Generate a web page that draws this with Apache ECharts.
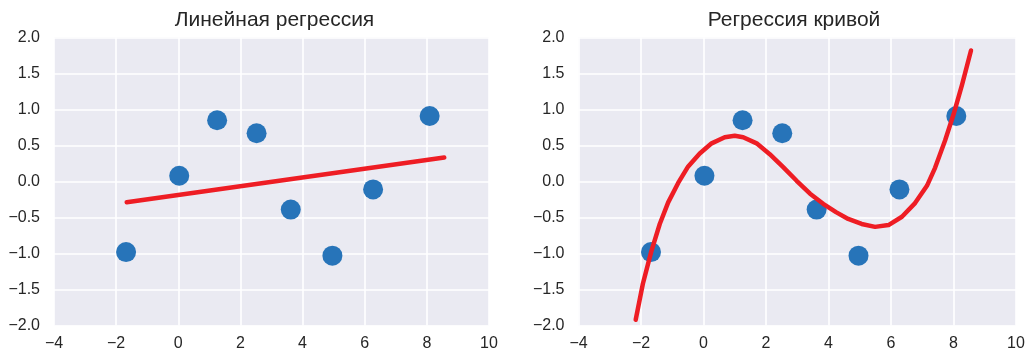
<!DOCTYPE html>
<html><head><meta charset="utf-8">
<script src="https://cdn.jsdelivr.net/npm/echarts@6/dist/echarts.min.js"></script>
<style>html,body{margin:0;padding:0;background:#fff}#c{width:1032px;height:356px}</style>
</head><body><div id="c"></div>
<script>
const titles = ['Линейная регрессия', 'Регрессия кривой'];
const pointsX = [-1.68, 0.03, 1.25, 2.52, 3.62, 4.96, 6.27, 8.09];
const pointsY = [-0.98, 0.08, 0.85, 0.67, -0.39, -1.03, -0.11, 0.91];
const lineX = [-1.66, 8.56];
const lineY = [-0.288, 0.334];
const curveX = [-2.17, -1.94, -1.67, -1.40, -1.13, -0.81, -0.49, -0.12, 0.26, 0.68, 1.00, 1.27, 1.70, 2.12, 2.55, 2.98, 3.41, 3.83, 4.24, 4.63, 5.06, 5.49, 5.92, 6.35, 6.77, 7.15, 7.41, 7.73, 8.00, 8.27, 8.56];
const curveY = [-1.92, -1.42, -0.97, -0.59, -0.29, -0.02, 0.21, 0.39, 0.53, 0.615, 0.635, 0.615, 0.53, 0.38, 0.20, 0.01, -0.17, -0.31, -0.425, -0.52, -0.59, -0.63, -0.605, -0.49, -0.30, -0.06, 0.19, 0.57, 0.93, 1.34, 1.82];
const xTicks = {min: -4, max: 10, interval: 2};
const yTicks = {min: -2, max: 2, interval: 0.5};

const zip = (a, b) => a.map((v, i) => [v, b[i]]);
const fmtMinus = v => String(v).replace('-', '\u2212');
const fmtY = v => fmtMinus(v.toFixed(1));
const font = '"Liberation Sans", Arial, sans-serif';
const txt = '#262626';
const dotColor = '#2774b9';
const redColor = '#ee1d24';

const grids = [
  {left: 54, right: 543, top: 37.5, bottom: 30.5},
  {left: 578.5, right: 16, top: 37.5, bottom: 30.5}
];
function xAxis(i) {
  return {type: 'value', gridIndex: i, min: xTicks.min, max: xTicks.max, interval: xTicks.interval,
    axisLine: {show: false}, axisTick: {show: false},
    splitLine: {show: true, lineStyle: {color: '#ffffff', width: 1.6}},
    axisLabel: {color: txt, fontSize: 16, fontFamily: font, margin: 10, formatter: v => fmtMinus(v)}};
}
function yAxis(i) {
  return {type: 'value', gridIndex: i, min: yTicks.min, max: yTicks.max, interval: yTicks.interval,
    axisLine: {show: false}, axisTick: {show: false},
    splitLine: {show: true, lineStyle: {color: '#ffffff', width: 1.6}},
    axisLabel: {color: txt, fontSize: 16, fontFamily: font, margin: 14, formatter: fmtY}};
}
const chart = echarts.init(document.getElementById('c'), null, {renderer: 'canvas'});
chart.setOption({
  animation: false,
  backgroundColor: '#ffffff',
  title: titles.map((t, i) => ({text: t, left: i === 0 ? 269.5 : 789, top: 5, textAlign: 'center',
    textStyle: {color: txt, fontSize: 21, fontWeight: 'normal', fontFamily: font}})),
  grid: grids.map(g => Object.assign({show: true, backgroundColor: '#eaeaf2', borderWidth: 0}, g)),
  xAxis: [xAxis(0), xAxis(1)],
  yAxis: [yAxis(0), yAxis(1)],
  series: [
    {type: 'scatter', xAxisIndex: 0, yAxisIndex: 0, data: zip(pointsX, pointsY), symbolSize: 20,
      itemStyle: {color: dotColor, opacity: 1}, z: 3},
    {type: 'line', xAxisIndex: 0, yAxisIndex: 0, data: zip(lineX, lineY), showSymbol: false,
      lineStyle: {color: redColor, width: 4.5, cap: 'round'}, z: 4},
    {type: 'scatter', xAxisIndex: 1, yAxisIndex: 1, data: zip(pointsX, pointsY), symbolSize: 20,
      itemStyle: {color: dotColor, opacity: 1}, z: 3},
    {type: 'line', xAxisIndex: 1, yAxisIndex: 1, data: zip(curveX, curveY), showSymbol: false,
      smooth: false,
      lineStyle: {color: redColor, width: 4.5, cap: 'round', join: 'round'}, z: 4}
  ]
});
</script></body></html>
